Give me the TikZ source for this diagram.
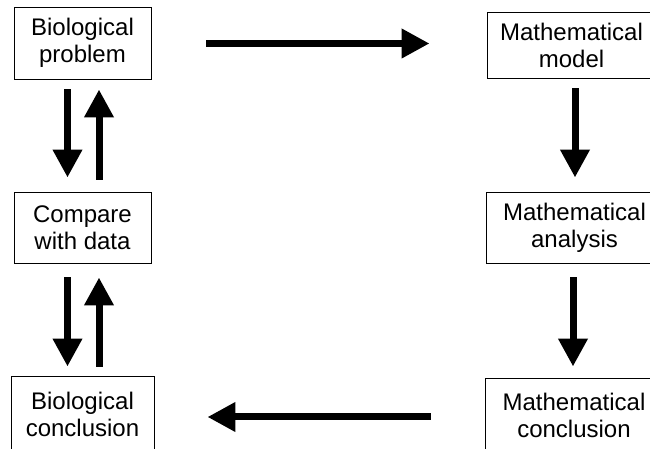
\documentclass[tikz,border=0pt]{standalone}
\usepackage{fontspec}
\setmainfont{Liberation Sans}
\usetikzlibrary{arrows.meta}
\begin{document}
\begin{tikzpicture}[x=1pt,y=1pt,
  box/.style={draw=black, line width=0.9pt, align=center, inner sep=0pt,
    font=\fontsize{24}{27}\selectfont},
  arr/.style={line width=7pt, -{Triangle[length=28pt,width=28pt]}}]
\useasboundingbox (0,0) rectangle (650,449);
\clip (0,0) rectangle (650,449);
\node[box, minimum width=137pt, minimum height=72pt] (bp) at (82.5,406) {Biological\\problem};
\node[box, minimum width=137pt, minimum height=71pt] (cd) at (82.5,221.5) {Compare\\with data};
\node[box, minimum width=143pt, minimum height=76pt] (bc) at (82.5,35) {Biological\\conclusion};
\node[box, minimum width=169pt, minimum height=66pt] (mm) at (571.5,404) {Mathematical\\model};
\node[box, minimum width=177pt, minimum height=71pt] (ma) at (574.5,221.5) {Mathematical\\analysis};
\node[box, minimum width=178pt, minimum height=74pt] (mc) at (574,34) {Mathematical\\conclusion};
% top horizontal
\draw[arr, shorten <=55pt, shorten >=57pt] ([yshift=-0.5pt]bp.east) -- ([yshift=-0.5pt]bp.east -| mm.west);
% left upper pair
\draw[arr, shorten <=10pt, shorten >=14pt] ([xshift=-15pt]bp.south) -- ([xshift=-15pt]cd.north);
\draw[arr, shorten <=12pt, shorten >=10pt] ([xshift=16.5pt]cd.north) -- ([xshift=16.5pt]bp.south);
% left lower pair
\draw[arr, shorten <=14pt, shorten >=9pt] ([xshift=-15pt]cd.south) -- ([xshift=-15pt]bc.north);
\draw[arr, shorten <=9pt, shorten >=14pt] ([xshift=16.5pt]bc.north) -- ([xshift=16.5pt]cd.south);
% right column
\draw[arr, shorten <=10pt, shorten >=14pt] ([xshift=3.5pt]mm.south) -- ([xshift=3.5pt]mm.south |- ma.north);
\draw[arr, shorten <=14pt, shorten >=11pt] ([xshift=-1.5pt]ma.south) -- ([xshift=-1.5pt]ma.south |- mc.north);
% bottom horizontal
\draw[arr, shorten <=54pt, shorten >=53pt] ([yshift=-2pt]mc.west) -- ([yshift=-2pt]mc.west -| bc.east);
\end{tikzpicture}
\end{document}
